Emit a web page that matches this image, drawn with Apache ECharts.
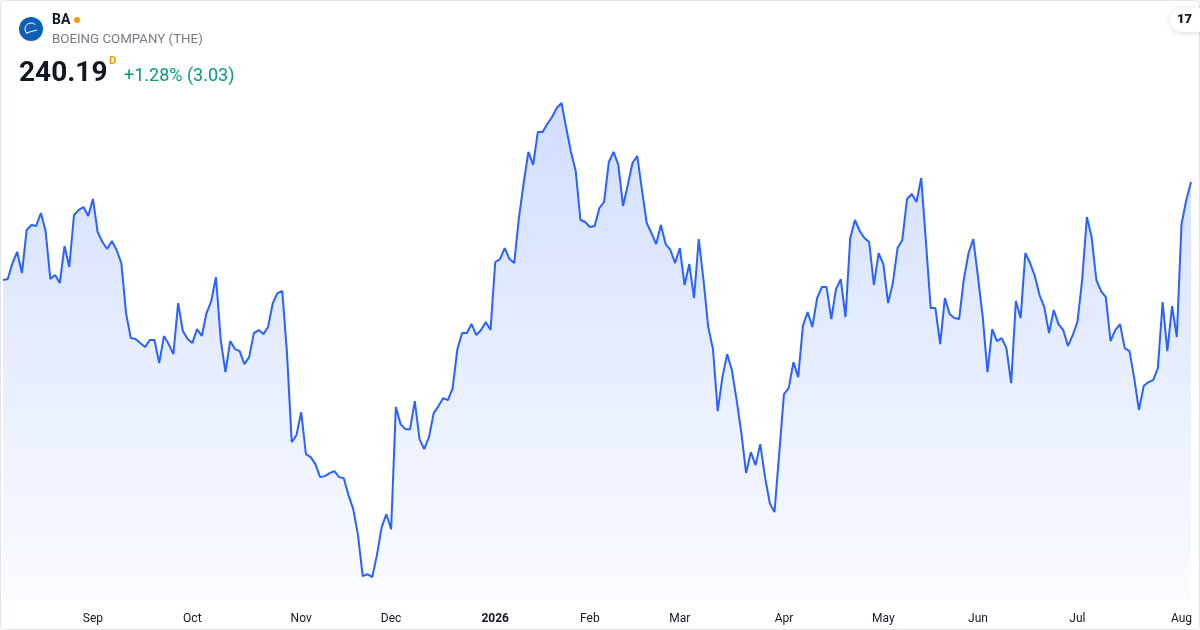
<!DOCTYPE html>
<html>
<head>
<meta charset="utf-8">
<script src="https://cdn.jsdelivr.net/npm/echarts@6/dist/echarts.min.js"></script>
<style>
  html, body { margin: 0; padding: 0; background: #ffffff; }
  #chart { width: 1200px; height: 630px; }
</style>
</head>
<body>
<div id="chart"></div>
<script>
// Daily closes, BA
var prices = [
  223.73, 223.89, 226.58, 228.43, 224.90, 232.13, 232.97, 232.80, 234.98, 231.96,
  223.89, 224.57, 223.22, 229.44, 225.91, 234.65, 235.49, 235.99, 234.48, 237.33,
  231.79, 230.11, 228.93, 230.28, 228.77, 226.58, 218.18, 213.98, 213.81, 213.14,
  212.47, 213.65, 213.65, 209.78, 214.32, 212.97, 211.29, 219.86, 215.16, 213.81,
  213.14, 215.49,
  214.32, 218.18, 220.20, 224.23, 213.65, 208.27, 213.48, 212.13, 211.80, 209.61,
  210.79, 214.82, 215.33, 214.65, 215.83, 219.86, 221.54, 221.88, 211.46, 196.51,
  197.69, 201.55, 194.49, 193.99, 192.81, 190.63, 190.80, 191.30, 191.64, 190.63,
  190.46, 187.61, 185.25, 180.89, 174.00, 174.33, 173.83, 177.53, 182.23, 184.41,
  181.89, 202.39,
  199.53, 198.69, 198.69, 203.40, 197.01, 195.33, 197.35, 201.38, 202.56, 203.90,
  203.57, 205.58, 212.13, 214.82, 214.82, 216.33, 214.49, 215.33, 216.67, 215.33,
  226.75, 227.25, 229.10, 227.25, 226.58, 234.14, 240.02, 245.23, 243.05, 248.59,
  248.59, 249.93, 251.11, 252.62, 253.46, 249.26, 245.23, 242.04, 233.81, 233.47,
  232.63,
  232.80, 235.82, 236.83, 243.55, 245.23, 243.05, 236.16, 239.69, 243.38, 244.56,
  238.85, 233.30, 231.62, 229.77, 232.97, 229.77, 228.77, 226.58, 229.10, 222.89,
  226.41, 220.70, 230.61, 223.73, 215.83, 212.13, 201.72, 207.43, 211.29, 208.61,
  203.57, 198.02, 191.30, 194.83, 192.65, 196.17, 190.63, 186.26, 184.75, 194.66,
  204.57, 205.58,
  209.95, 207.43, 216.00, 218.35, 215.83, 220.70, 222.55, 222.55, 217.17, 222.21,
  223.89, 217.51, 230.78, 233.81, 231.96, 230.78, 230.11, 222.89, 228.26, 226.41,
  219.86, 223.22, 229.10, 230.45, 237.33, 238.17, 236.83, 240.86, 230.11, 219.02,
  219.02, 212.97, 220.70, 218.01, 217.34, 217.17, 223.89, 228.26, 230.61, 224.23,
  217.51, 208.27,
  215.49, 213.48, 213.98, 212.30, 206.42, 220.20, 217.34, 228.26, 226.58, 224.40,
  221.21, 219.19, 214.82, 218.69, 216.33, 215.33, 212.64, 214.49, 216.67, 223.73,
  234.31, 230.95, 223.73, 221.88, 220.87, 213.48, 215.33, 216.33, 212.30, 211.80,
  207.26, 201.89, 205.92, 206.59, 206.93, 208.94, 220.03, 211.80, 219.36, 214.15,
  233.13, 237.16, 240.19
];

// Month tick labels and the trading-day index where each falls
var tickLabels = ['Sep', 'Oct', 'Nov', 'Dec', '2026', 'Feb', 'Mar', 'Apr', 'May', 'Jun', 'Jul', 'Aug'];
var tickIndex  = [19, 40, 63, 82, 104, 124, 143, 165, 186, 206, 227, 249];

// Header texts
var ticker = 'BA';
var companyName = 'BOEING COMPANY (THE)';
var lastPrice = '240.19';
var changeText = '+1.28% (3.03)';

var categories = prices.map(function (_, i) { return String(i); });
var tickMap = {};
tickIndex.forEach(function (idx, k) { tickMap[idx] = tickLabels[k]; });

var FONT = 'Roboto, "Noto Sans", sans-serif';

var chart = echarts.init(document.getElementById('chart'), null, { renderer: 'canvas' });
chart.setOption({
  animation: false,
  backgroundColor: '#ffffff',
  grid: { left: 3, right: 9, top: 64, bottom: 30, containLabel: false },
  xAxis: {
    type: 'category',
    data: categories,
    boundaryGap: false,
    axisLine: { show: false },
    axisTick: { show: false },
    splitLine: { show: false },
    axisLabel: {
      interval: function (index) { return tickMap[index] !== undefined; },
      formatter: function (value, index) {
        var t = tickMap[index];
        if (t === undefined) return '';
        return t === '2026' ? '{b|' + t + '}' : t;
      },
      margin: 13,
      color: '#131722',
      fontSize: 12,
      fontFamily: FONT,
      rich: { b: { fontWeight: 'bold', color: '#131722', fontSize: 12, fontFamily: FONT } }
    }
  },
  yAxis: {
    type: 'value',
    min: 170,
    max: 260,
    show: false,
    splitLine: { show: false }
  },
  series: [{
    type: 'line',
    data: prices,
    symbol: 'none',
    smooth: false,
    lineStyle: { color: '#2962ff', width: 2 },
    itemStyle: { color: '#2962ff' },
    areaStyle: {
      origin: 'start',
      color: {
        type: 'linear', x: 0, y: 0, x2: 0, y2: 1,
        colorStops: [
          { offset: 0, color: 'rgba(41,98,255,0.30)' },
          { offset: 1, color: 'rgba(41,98,255,0.03)' }
        ]
      }
    }
  }],
  graphic: [
    { type: 'rect', shape: { x: 0.5, y: 0.5, width: 1199, height: 629, r: 4 },
      style: { fill: 'none', stroke: '#e0e3eb', lineWidth: 1 }, silent: true, z: 100 },
    { type: 'circle', shape: { cx: 31, cy: 29, r: 12 }, style: { fill: '#0f5fb4' }, z: 100 },
    { type: 'arc', shape: { cx: 31, cy: 29, r: 6, startAngle: 2.2, endAngle: 5.6 },
      style: { stroke: '#ffffff', lineWidth: 1, fill: 'none' }, z: 101 },
    { type: 'line', shape: { x1: 26, y1: 33, x2: 37, y2: 30 },
      style: { stroke: '#ffffff', lineWidth: 1 }, z: 101 },
    { type: 'text', left: 52, top: 13,
      style: { text: ticker, font: 'bold 14px ' + FONT, fill: '#131722' }, z: 100 },
    { type: 'circle', shape: { cx: 77, cy: 20, r: 3 }, style: { fill: '#ff9800' }, z: 100 },
    { type: 'text', left: 52, top: 33,
      style: { text: companyName, font: '13.3px ' + FONT, fill: '#787b86' }, z: 100 },
    { type: 'text', left: 19, top: 60,
      style: { text: lastPrice, font: 'bold 28px ' + FONT, fill: '#131722' }, z: 100 },
    { type: 'text', left: 109, top: 56,
      style: { text: 'D', font: 'bold 11px ' + FONT, fill: '#ff9800' }, z: 100 },
    { type: 'text', left: 124, top: 67,
      style: { text: changeText, font: '18px ' + FONT, fill: '#089981' }, z: 100 },
    { type: 'rect', shape: { x: 1170, y: 8, width: 40, height: 24, r: 12 },
      style: { fill: '#ffffff', shadowBlur: 6, shadowColor: 'rgba(0,0,0,0.15)', shadowOffsetY: 1 }, z: 100 },
    { type: 'text', left: 1177, top: 13,
      style: { text: '17', font: '900 13px ' + FONT, fill: '#131722' }, z: 101 }
  ]
});
</script>
</body>
</html>
